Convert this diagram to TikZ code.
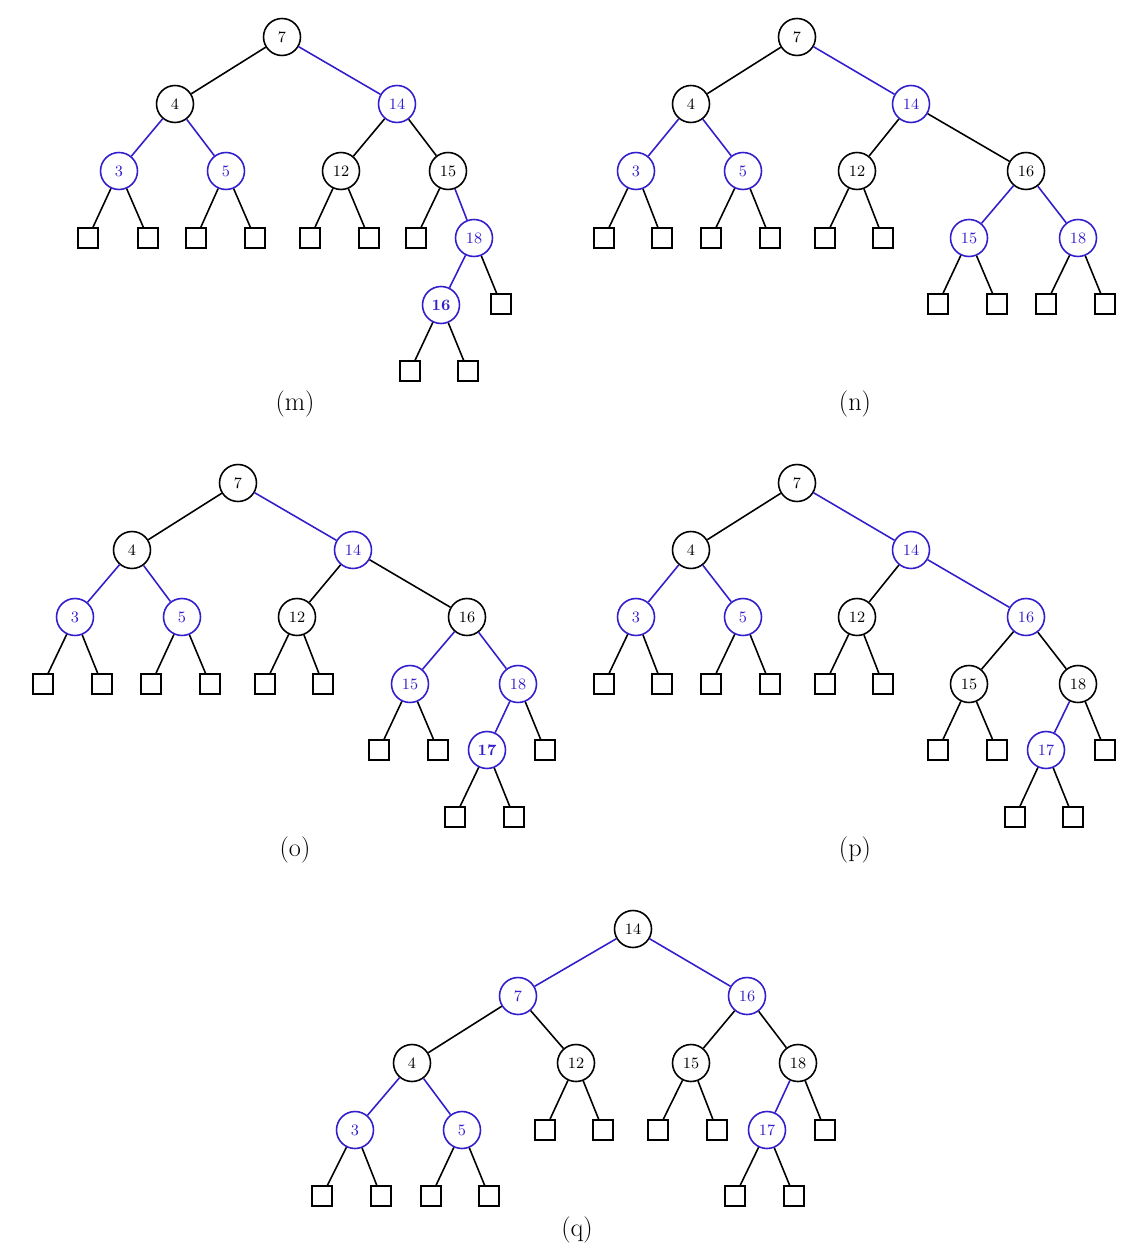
\documentclass[tikz,border=0pt]{standalone}
\usepackage{tikz}
\definecolor{hlblue}{RGB}{50, 30, 205}

\begin{document}
\begin{tikzpicture}[x=0.02cm, y=-0.02cm,
    key/.style={draw, circle, line width=0.9pt, minimum size=0.74cm, inner sep=0pt,
                font=\small, fill=white},
    hot/.style={key, draw=hlblue, text=hlblue},
    hotb/.style={hot, font=\small\bfseries},
    leaf/.style={draw, line width=0.9pt, minimum size=0.4cm, inner sep=0pt},
    edge/.style={line width=0.9pt},
    hedge/.style={edge, hlblue},
    sublabel/.style={font=\fontsize{15}{18}\selectfont}
  ]
    \useasboundingbox (0,0) rectangle (1128,1256);

    % (m)
    \node[key] (m7) at (282,37) {7};
    \node[key] (m4) at (175,104) {4};
    \node[hot] (m14) at (397,104) {14};
    \node[hot] (m3) at (119,171) {3};
    \node[hot] (m5) at (226,171) {5};
    \node[key] (m12) at (341,171) {12};
    \node[key] (m15) at (448,171) {15};
    \node[hot] (m18) at (474,238) {18};
    \node[hotb] (m16) at (441,305) {16};
    \draw[edge] (m7) -- (m4);
    \draw[hedge] (m7) -- (m14);
    \draw[hedge] (m4) -- (m3);
    \draw[hedge] (m4) -- (m5);
    \draw[edge] (m14) -- (m12);
    \draw[edge] (m14) -- (m15);
    \draw[hedge] (m15) -- (m18);
    \draw[hedge] (m18) -- (m16);
    \foreach \n/\x/\y/\p in {ma/88/238/m3, mb/148/238/m3, mc/196/238/m5, md/255/238/m5,
        me/310/238/m12, mf/369/238/m12, mg/416/238/m15, mh/501/304/m18,
        mi/410/371/m16, mj/468/371/m16}
      {\node[leaf] (\n) at (\x,\y) {};
       \draw[edge] (\p) -- (\n);}
    \node[sublabel] (labm) at (295,404) {(m)};

    % (n)
    \node[key] (n7) at (797,37) {7};
    \node[key] (n4) at (691,104) {4};
    \node[hot] (n14) at (911,104) {14};
    \node[hot] (n3) at (636,171) {3};
    \node[hot] (n5) at (743,171) {5};
    \node[key] (n12) at (857,171) {12};
    \node[key] (n16) at (1026,171) {16};
    \node[hot] (n15) at (969,238) {15};
    \node[hot] (n18) at (1078,238) {18};
    \draw[edge] (n7) -- (n4);
    \draw[hedge] (n7) -- (n14);
    \draw[hedge] (n4) -- (n3);
    \draw[hedge] (n4) -- (n5);
    \draw[edge] (n14) -- (n12);
    \draw[edge] (n14) -- (n16);
    \draw[hedge] (n16) -- (n15);
    \draw[hedge] (n16) -- (n18);
    \foreach \n/\x/\y/\p in {na/604/238/n3, nb/662/238/n3, nc/711/238/n5, nd/770/238/n5,
        ne/825/238/n12, nf/883/238/n12, ng/938/304/n15, nh/997/304/n15,
        ni/1046/304/n18, nj/1105/304/n18}
      {\node[leaf] (\n) at (\x,\y) {};
       \draw[edge] (\p) -- (\n);}
    \node[sublabel] (labn) at (855,404) {(n)};

    % (o)
    \node[key] (o7) at (238,483) {7};
    \node[key] (o4) at (132,550) {4};
    \node[hot] (o14) at (353,550) {14};
    \node[hot] (o3) at (75,617) {3};
    \node[hot] (o5) at (182,617) {5};
    \node[key] (o12) at (297,617) {12};
    \node[key] (o16) at (467,617) {16};
    \node[hot] (o15) at (410,684) {15};
    \node[hot] (o18) at (518,684) {18};
    \node[hotb] (o17) at (487,750) {17};
    \draw[edge] (o7) -- (o4);
    \draw[hedge] (o7) -- (o14);
    \draw[hedge] (o4) -- (o3);
    \draw[hedge] (o4) -- (o5);
    \draw[edge] (o14) -- (o12);
    \draw[edge] (o14) -- (o16);
    \draw[hedge] (o16) -- (o15);
    \draw[hedge] (o16) -- (o18);
    \draw[hedge] (o18) -- (o17);
    \foreach \n/\x/\y/\p in {oa/43/684/o3, ob/102/684/o3, oc/151/684/o5, od/210/684/o5,
        oe/265/684/o12, of/323/684/o12, og/379/750/o15, oh/438/750/o15,
        oi/545/750/o18, oj/455/817/o17, ok/514/817/o17}
      {\node[leaf] (\n) at (\x,\y) {};
       \draw[edge] (\p) -- (\n);}
    \node[sublabel] (labo) at (295,850) {(o)};

    % (p)
    \node[key] (p7) at (797,483) {7};
    \node[key] (p4) at (691,550) {4};
    \node[hot] (p14) at (911,550) {14};
    \node[hot] (p3) at (636,617) {3};
    \node[hot] (p5) at (743,617) {5};
    \node[key] (p12) at (857,617) {12};
    \node[hot] (p16) at (1026,617) {16};
    \node[key] (p15) at (969,684) {15};
    \node[key] (p18) at (1078,684) {18};
    \node[hot] (p17) at (1046,750) {17};
    \draw[edge] (p7) -- (p4);
    \draw[hedge] (p7) -- (p14);
    \draw[hedge] (p4) -- (p3);
    \draw[hedge] (p4) -- (p5);
    \draw[edge] (p14) -- (p12);
    \draw[hedge] (p14) -- (p16);
    \draw[edge] (p16) -- (p15);
    \draw[edge] (p16) -- (p18);
    \draw[hedge] (p18) -- (p17);
    \foreach \n/\x/\y/\p in {pa/604/684/p3, pb/662/684/p3, pc/711/684/p5, pd/770/684/p5,
        pe/825/684/p12, pf/883/684/p12, pg/938/750/p15, ph/997/750/p15,
        pi/1105/750/p18, pj/1015/817/p17, pk/1073/817/p17}
      {\node[leaf] (\n) at (\x,\y) {};
       \draw[edge] (\p) -- (\n);}
    \node[sublabel] (labp) at (855,850) {(p)};

    % (q)
    \node[key] (q14) at (633,929) {14};
    \node[hot] (q7) at (518,996) {7};
    \node[hot] (q16) at (747,996) {16};
    \node[key] (q4) at (412,1063) {4};
    \node[key] (q12) at (576,1063) {12};
    \node[key] (q15) at (691,1063) {15};
    \node[key] (q18) at (798,1063) {18};
    \node[hot] (q3) at (355,1130) {3};
    \node[hot] (q5) at (462,1130) {5};
    \node[hot] (q17) at (767,1130) {17};
    \draw[hedge] (q14) -- (q7);
    \draw[hedge] (q14) -- (q16);
    \draw[edge] (q7) -- (q4);
    \draw[edge] (q7) -- (q12);
    \draw[edge] (q16) -- (q15);
    \draw[edge] (q16) -- (q18);
    \draw[hedge] (q4) -- (q3);
    \draw[hedge] (q4) -- (q5);
    \draw[hedge] (q18) -- (q17);
    \foreach \n/\x/\y/\p in {qa/545/1130/q12, qb/603/1130/q12, qc/658/1130/q15, qd/717/1130/q15,
        qe/825/1130/q18, qf/322/1196/q3, qg/381/1196/q3, qh/431/1196/q5,
        qi/489/1196/q5, qj/735/1196/q17, qk/794/1196/q17}
      {\node[leaf] (\n) at (\x,\y) {};
       \draw[edge] (\p) -- (\n);}
    \node[sublabel] (labq) at (577,1230) {(q)};
  \end{tikzpicture}
\end{document}
